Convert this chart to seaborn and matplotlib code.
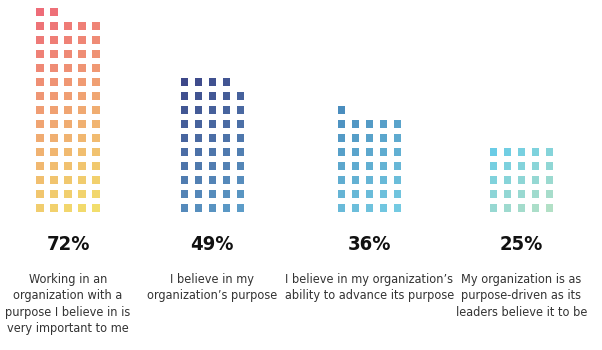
import matplotlib
matplotlib.use("Agg")
import matplotlib.pyplot as plt
from matplotlib import font_manager
import matplotlib.colors as mcolors
import numpy as np
import pandas as pd
import seaborn as sns

# ---- data ----
values = [72, 49, 36, 25]
pct_labels = ["72%", "49%", "36%", "25%"]
descriptions = [
    "Working in an\norganization with a\npurpose I believe in is\nvery important to me",
    "I believe in my\norganization\u2019s purpose",
    "I believe in my organization\u2019s\nability to advance its purpose",
    "My organization is as\npurpose-driven as its\nleaders believe it to be",
]

# ---- styles ----
group_left = [40, 184.3, 341.3, 493.3]
grad_start = ["#EE6C78", "#3D4889", "#4A8DBE", "#6ACCE6"]
grad_end = ["#F2DE6C", "#5C9CC8", "#74CAE2", "#B2E0C6"]
per_row = 5
step = 14
base_y = 208

sns.set_theme(style="white")
names = {f.name for f in font_manager.fontManager.ttflist}
if "Liberation Sans Narrow" in names:
    fam = ["Liberation Sans Narrow", "DejaVu Sans"]
    stretch = "normal"
else:
    fam = ["DejaVu Sans"]
    stretch = "condensed"
plt.rcParams["font.family"] = fam

rows = []
for g, v in enumerate(values):
    nrows = int(np.ceil(v / per_row))
    c0 = np.array(mcolors.to_rgb(grad_start[g]))
    c1 = np.array(mcolors.to_rgb(grad_end[g]))
    for k in range(v):
        r = k // per_row
        c = k % per_row
        rtop = nrows - 1 - r
        t = (rtop + 0.6 * c) / (nrows - 1 + 0.6 * (per_row - 1))
        col = mcolors.to_hex(c0 + (c1 - c0) * t)
        rows.append({"x": group_left[g] + c * step, "y": base_y - r * step, "color": col})
df = pd.DataFrame(rows)

fig = plt.figure(figsize=(6.02, 3.5), dpi=100)
ax = fig.add_axes([0, 0, 1, 1])
pal = {c: c for c in df["color"].unique()}
sns.scatterplot(data=df, x="x", y="y", hue="color", palette=pal, marker="s",
                s=27, linewidth=0, legend=False, ax=ax)
ax.set_xlim(0, 602)
ax.set_ylim(350, 0)
ax.axis("off")

for g in range(len(values)):
    cx = group_left[g] + 2 * step
    ax.text(cx, 245, pct_labels[g], ha="center", va="center", fontsize=14.5,
            fontweight="bold", color="#111111", fontstretch=stretch)
    ax.text(cx, 273, descriptions[g], ha="center", va="top", fontsize=9.1,
            color="#333333", linespacing=1.33, fontstretch=stretch)

fig.savefig("out.png", dpi=100)
